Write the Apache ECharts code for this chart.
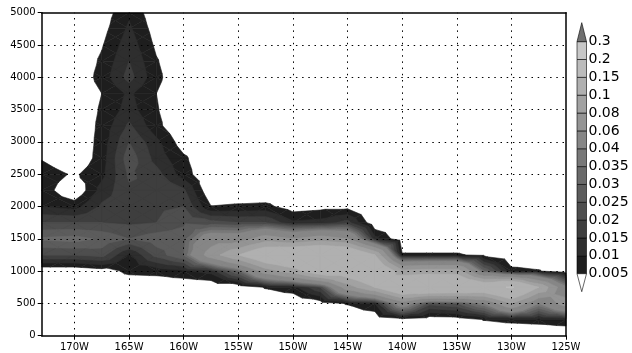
<!DOCTYPE html>
<html><head><meta charset="utf-8">
<script src="https://cdn.jsdelivr.net/npm/echarts@6/dist/echarts.min.js"></script>
<style>html,body{margin:0;padding:0;background:#fff}#c{width:632px;height:353px}</style>
</head><body><div id="c"></div>
<script>
// longitude (deg, negative = W) of each grid column
const lons = [-173,-170,-167.5,-165,-162.5,-160,-157.5,-155,-152.5,-150,-147.5,-145,-142.5,-140,-137.5,-135,-132.5,-130,-127.5,-125];
// height (m) of each grid row
const heights = [0,250,500,750,1000,1250,1500,1750,2000,2250,2500,2750,3000,3250,3500,3750,4000,4250,4500,4750,5000];
// field values, one row per height, one entry per longitude
const values = [
 [0,0,0,0,0,0,0,0,0,0,0,0,0,0,0,0,0,0,0,0],
 [0,0,0,0,0,0,0,0,0,0,0,0,0,0.003,0.001,0.0015,0.0053,0.0064,0.007,0.0083],
 [0,0,0,0,0,0,0,0,0,0,0.002,0.0055,0.01,0.05,0.022,0.025,0.04,0.08,0.04,0.07],
 [0,0,0,0,0,0,0,0,0.0055,0.008,0.02,0.07,0.1,0.14,0.145,0.14,0.13,0.155,0.1,0.042],
 [0,0,0.002,0.0065,0.007,0.009,0.012,0.03,0.07,0.09,0.12,0.12,0.14,0.085,0.09,0.09,0.03,0.0067,0.0055,0],
 [0.02,0.02,0.022,0.009,0.022,0.03,0.07,0.1,0.13,0.14,0.145,0.14,0.1,0.0057,0.0057,0.0057,0.0035,0,0,0],
 [0.031,0.032,0.029,0.025,0.028,0.028,0.05,0.05,0.07,0.06,0.07,0.06,0.012,0,0,0,0,0,0,0],
 [0.02,0.02,0.02,0.019,0.02,0.024,0.022,0.02,0.02,0.011,0.012,0.017,0,0,0,0,0,0,0,0],
 [0.01,0.008,0.016,0.018,0.019,0.02,0.0052,0.006,0.0065,0.002,0.003,0.003,0,0,0,0,0,0,0,0],
 [0.008,0,0.012,0.019,0.02,0.016,0,0,0,0,0,0,0,0,0,0,0,0,0,0],
 [0.008,0.0042,0.0085,0.021,0.017,0.0074,0,0,0,0,0,0,0,0,0,0,0,0,0,0],
 [0.0045,0,0.0075,0.023,0.013,0.006,0,0,0,0,0,0,0,0,0,0,0,0,0,0],
 [0,0,0.007,0.02,0.0114,0.002,0,0,0,0,0,0,0,0,0,0,0,0,0,0],
 [0,0,0.0065,0.016,0.0065,0,0,0,0,0,0,0,0,0,0,0,0,0,0,0],
 [0,0,0.0058,0.012,0.0055,0,0,0,0,0,0,0,0,0,0,0,0,0,0,0],
 [0,0,0.005,0.011,0.005,0,0,0,0,0,0,0,0,0,0,0,0,0,0,0],
 [0,0,0.0072,0.017,0.0065,0,0,0,0,0,0,0,0,0,0,0,0,0,0,0],
 [0,0,0.006,0.015,0.0055,0,0,0,0,0,0,0,0,0,0,0,0,0,0,0],
 [0,0,0.0045,0.013,0.0039,0,0,0,0,0,0,0,0,0,0,0,0,0,0,0],
 [0,0,0.003,0.011,0.0025,0,0,0,0,0,0,0,0,0,0,0,0,0,0,0],
 [0,0,0.002,0.009,0.0013,0,0,0,0,0,0,0,0,0,0,0,0,0,0,0]
];
// contour levels and their labels
const levels = [0.005,0.01,0.015,0.02,0.025,0.03,0.035,0.04,0.06,0.08,0.1,0.15,0.2,0.3];
const levelLabels = ['0.005','0.01','0.015','0.02','0.025','0.03','0.035','0.04','0.06','0.08','0.1','0.15','0.2','0.3'];
// colour of each band: below first level, between levels, above last level
const bandColors = ['#ffffff','#1e1e1e','#2e2e2e','#3e3e3e','#4e4e4e','#5c5c5c','#6a6a6a','#787878','#868686','#949494','#a2a2a2','#b0b0b0','#bcbcbc','#c8c8c8','#707070'];
// axis ticks
const lonTicks = [-170,-165,-160,-155,-150,-145,-140,-135,-130,-125];
const heightTicks = [0,500,1000,1500,2000,2500,3000,3500,4000,4500,5000];

// split grid cells into triangles (data space)
const tris = [];
for (let r = 0; r < heights.length - 1; r++) {
  for (let c = 0; c < lons.length - 1; c++) {
    const p00 = {x: lons[c], y: heights[r], v: values[r][c]};
    const p10 = {x: lons[c+1], y: heights[r], v: values[r][c+1]};
    const p11 = {x: lons[c+1], y: heights[r+1], v: values[r+1][c+1]};
    const p01 = {x: lons[c], y: heights[r+1], v: values[r+1][c]};
    const m = {x: (p00.x + p10.x) / 2, y: (p00.y + p01.y) / 2, v: (p00.v + p10.v + p11.v + p01.v) / 4};
    tris.push([p00, p10, m], [p10, p11, m], [p11, p01, m], [p01, p00, m]);
  }
}
function clipAbove(poly, lo) {
  const out = [];
  for (let i = 0; i < poly.length; i++) {
    const a = poly[i], b = poly[(i + 1) % poly.length];
    const ain = a.v >= lo, bin = b.v >= lo;
    if (ain) out.push(a);
    if (ain !== bin) {
      const t = (lo - a.v) / (b.v - a.v);
      out.push({x: a.x + t * (b.x - a.x), y: a.y + t * (b.y - a.y), v: lo});
    }
  }
  return out;
}
function renderBand(params, api) {
  const k = api.value(0);
  const lo = levels[k - 1];
  const col = bandColors[k];
  const children = [];
  for (const t of tris) {
    if (t[0].v < lo && t[1].v < lo && t[2].v < lo) continue;
    const poly = clipAbove(t, lo);
    if (poly.length < 3) continue;
    children.push({
      type: 'polygon',
      shape: {points: poly.map(p => api.coord([p.x, p.y]))},
      style: {fill: col, stroke: col, lineWidth: 0.6}
    });
  }
  return {type: 'group', children};
}

const G = {left: 41.7, right: 66, top: 12.7, bottom: 17.3};
// colour bar geometry
const cbX = 577, cbW = 9.5, cbY0 = 273.7, cbStep = 17.85;
const graphics = [];
for (let k = 1; k < levels.length; k++) {
  const yTop = cbY0 - k * cbStep;
  graphics.push({type: 'rect', shape: {x: cbX, y: yTop, width: cbW, height: cbStep},
    style: {fill: bandColors[k], stroke: '#000', lineWidth: 0.6}});
}
const yHi = cbY0 - (levels.length - 1) * cbStep;
graphics.push({type: 'polygon', shape: {points: [[cbX, yHi], [cbX + cbW, yHi], [cbX + cbW / 2, yHi - 19]]},
  style: {fill: bandColors[bandColors.length - 1], stroke: '#000', lineWidth: 0.6}});
graphics.push({type: 'polygon', shape: {points: [[cbX, cbY0], [cbX + cbW, cbY0], [cbX + cbW / 2, cbY0 + 18]]},
  style: {fill: bandColors[0], stroke: '#000', lineWidth: 0.6}});
levels.forEach((l, i) => {
  graphics.push({type: 'text', x: 588.5, y: cbY0 - i * cbStep,
    style: {text: levelLabels[i], fill: '#000', font: '14px "DejaVu Sans"', textVerticalAlign: 'middle', textAlign: 'left'}});
});

const lonFmt = v => Math.abs(Math.round(v)) + 'W';
const chart = echarts.init(document.getElementById('c'), null, {renderer: 'canvas'});
chart.setOption({
  animation: false,
  backgroundColor: '#fff',
  grid: G,
  xAxis: [{
    type: 'value', min: -173, max: -125, z: 10,
    axisLine: {show: true, onZero: false, lineStyle: {color: '#000', width: 1.5}},
    axisTick: {show: true, customValues: lonTicks, length: 4, lineStyle: {color: '#000'}},
    axisLabel: {customValues: lonTicks, formatter: lonFmt, color: '#000', fontFamily: 'DejaVu Sans', fontSize: 10, margin: 7},
    splitLine: {show: false}
  }, {
    type: 'value', min: -173, max: -125, position: 'top', z: 10,
    axisLine: {show: true, onZero: false, lineStyle: {color: '#000', width: 1.5}},
    axisTick: {show: false}, axisLabel: {show: false}, splitLine: {show: false}
  }],
  yAxis: [{
    type: 'value', min: 0, max: 5000, interval: 500, z: 10,
    axisLine: {show: true, onZero: false, lineStyle: {color: '#000', width: 1.5}},
    axisTick: {show: true, length: 4, lineStyle: {color: '#000'}},
    axisLabel: {color: '#000', fontFamily: 'DejaVu Sans', fontSize: 10, margin: 6, formatter: v => String(v)},
    splitLine: {show: false}
  }, {
    type: 'value', min: 0, max: 5000, position: 'right', z: 10,
    axisLine: {show: true, onZero: false, lineStyle: {color: '#000', width: 1.5}},
    axisTick: {show: false}, axisLabel: {show: false}, splitLine: {show: false}
  }],
  series: [{
    type: 'custom', renderItem: renderBand, clip: true, z: 2,
    xAxisIndex: 0, yAxisIndex: 0,
    encode: {x: 0, y: 0},
    data: levels.map((l, i) => [i + 1])
  }, {
    type: 'line', data: [], z: 5, xAxisIndex: 0, yAxisIndex: 0,
    markLine: {
      silent: true, symbol: 'none', animation: false, label: {show: false},
      lineStyle: {color: '#000', type: [1.5, 4.7], width: 1},
      data: lonTicks.slice(0, -1).map(v => ({xAxis: v})).concat(heightTicks.slice(1, -1).map(v => ({yAxis: v})))
    }
  }],
  graphic: graphics
});
</script>
</body></html>
